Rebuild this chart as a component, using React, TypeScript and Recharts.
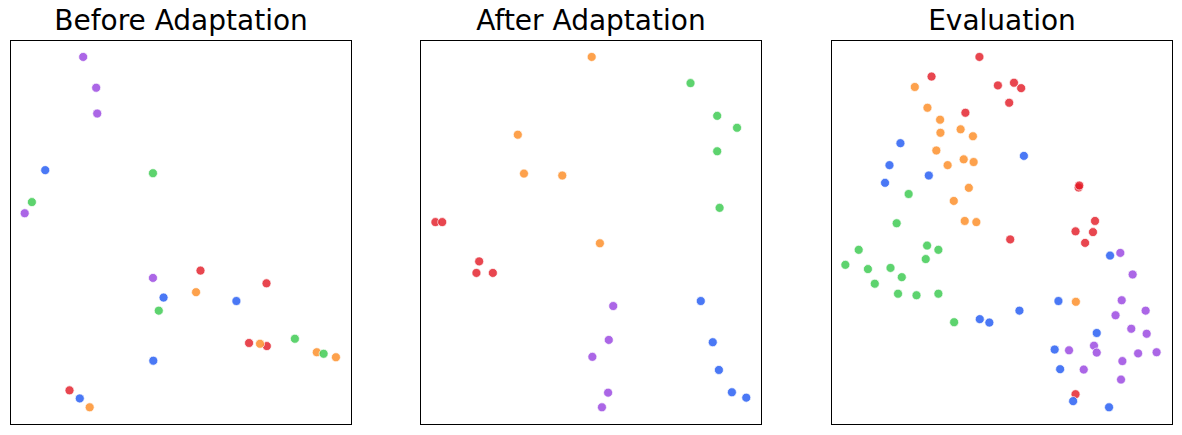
import { ScatterChart, Scatter, XAxis, YAxis } from 'recharts';

// embedding coordinates (0-100 box per panel)
const classes = ['red', 'orange', 'green', 'blue', 'purple'];
const colors: Record<string, string> = {
  red: '#e21823',
  orange: '#fd8a1f',
  green: '#34c84a',
  blue: '#1d56f3',
  purple: '#9640e0',
};

const titles = ['Before Adaptation', 'After Adaptation', 'Evaluation'];

const beforeRed = [[55.7, 40.1], [75.0, 36.8], [69.9, 21.3], [75.1, 20.5], [17.4, 9.0]];
const beforeOrange = [[54.4, 34.5], [73.1, 21.1], [89.7, 18.9], [95.3, 17.6], [23.3, 4.6]];
const beforeGreen = [[41.8, 65.4], [6.4, 57.9], [43.5, 29.7], [83.3, 22.4], [91.7, 18.5]];
const beforeBlue = [[10.3, 66.2], [44.9, 33.1], [66.2, 32.2], [41.9, 16.7], [20.4, 6.9]];
const beforePurple = [[21.4, 95.6], [25.2, 87.6], [25.5, 80.9], [4.3, 55.0], [41.8, 38.2]];

const afterRed = [[4.5, 52.7], [6.5, 52.7], [17.3, 42.5], [16.5, 39.5], [21.3, 39.5]];
const afterOrange = [[50.2, 95.6], [28.6, 75.4], [30.4, 65.3], [41.6, 64.8], [52.6, 47.2]];
const afterGreen = [[79.1, 88.8], [86.9, 80.3], [92.7, 77.2], [86.9, 71.1], [87.6, 56.4]];
const afterBlue = [[82.1, 32.2], [85.6, 21.5], [87.4, 14.3], [91.2, 8.5], [95.4, 7.1]];
const afterPurple = [[56.5, 30.9], [55.2, 22.1], [50.4, 17.7], [55.0, 8.4], [53.2, 4.6]];

const evalRed = [
  [43.4, 95.6], [29.4, 90.5], [48.8, 88.2], [53.5, 88.9], [55.6, 87.5], [52.1, 83.7],
  [39.3, 81.1], [72.4, 61.7], [72.6, 62.2], [77.2, 53.0], [71.5, 50.3], [76.6, 50.1],
  [74.3, 47.3], [52.4, 48.2], [71.5, 8.0],
];
const evalOrange = [
  [24.5, 87.8], [28.2, 82.4], [31.9, 79.3], [32.0, 75.9], [37.9, 76.8], [41.5, 75.0],
  [30.8, 71.3], [38.8, 69.0], [41.7, 68.3], [34.1, 67.5], [40.3, 61.6], [35.9, 58.2],
  [39.1, 53.0], [42.5, 52.7], [71.6, 32.0],
];
const evalGreen = [
  [22.7, 60.0], [19.2, 52.4], [8.1, 45.5], [28.1, 46.6], [31.4, 45.5], [27.7, 43.1],
  [4.2, 41.6], [10.8, 40.5], [17.4, 40.8], [20.7, 38.4], [12.8, 36.7], [19.6, 34.1],
  [25.0, 33.7], [31.4, 34.1], [36.0, 26.7],
];
const evalBlue = [
  [20.3, 73.2], [56.4, 69.9], [17.1, 67.5], [28.6, 64.8], [15.8, 62.9], [81.6, 44.0],
  [43.5, 27.5], [46.3, 26.6], [55.1, 29.7], [66.5, 32.2], [77.7, 23.9], [65.4, 19.6],
  [67.0, 14.5], [70.8, 6.2], [81.3, 4.6],
];
const evalPurple = [
  [84.6, 44.7], [88.2, 39.1], [85.0, 32.4], [92.0, 29.7], [83.2, 28.5], [87.8, 25.0],
  [92.3, 23.7], [69.6, 19.4], [76.9, 20.6], [77.7, 18.8], [89.8, 18.6], [95.2, 18.9],
  [85.2, 16.6], [73.9, 14.4], [84.8, 11.8],
];

const panels = [
  { red: beforeRed, orange: beforeOrange, green: beforeGreen, blue: beforeBlue, purple: beforePurple },
  { red: afterRed, orange: afterOrange, green: afterGreen, blue: afterBlue, purple: afterPurple },
  { red: evalRed, orange: evalOrange, green: evalGreen, blue: evalBlue, purple: evalPurple },
];

const panelLeft = [10, 420, 831];

const Dot = (props: any) => {
  const { cx, cy, fill } = props;
  if (cx == null || cy == null) return null;
  return (
    <circle cx={cx} cy={cy} r={4.5} fill={fill} fillOpacity={0.8} stroke="#ffffff" strokeWidth={0.7} />
  );
};

function Panel({ idx }: { idx: number }) {
  const p: any = panels[idx];
  return (
    <>
      <div
        style={{
          position: 'absolute',
          left: panelLeft[idx],
          top: 2,
          width: 342,
          textAlign: 'center',
          fontFamily: 'DejaVu Sans',
          fontSize: 28,
          color: '#000',
          lineHeight: '38px',
          whiteSpace: 'nowrap',
        }}
      >
        {titles[idx]}
      </div>
      <div style={{ position: 'absolute', left: panelLeft[idx], top: 40, width: 342, height: 385 }}>
        <ScatterChart width={342} height={385} margin={{ top: 0, right: 0, bottom: 0, left: 0 }}>
          <XAxis type="number" dataKey="x" domain={[0, 100]} hide />
          <YAxis type="number" dataKey="y" domain={[0, 100]} hide />
          {classes.map((c) => (
            <Scatter
              key={c}
              data={p[c].map(([x, y]: number[]) => ({ x, y }))}
              fill={colors[c]}
              shape={<Dot />}
              isAnimationActive={false}
            />
          ))}
        </ScatterChart>
        <div
          style={{
            position: 'absolute',
            left: 0,
            top: 0,
            width: 342,
            height: 385,
            boxSizing: 'border-box',
            border: '1px solid #000',
            pointerEvents: 'none',
          }}
        />
      </div>
    </>
  );
}

export default function App() {
  return (
    <div style={{ position: 'absolute', left: 0, top: 0, width: 1182, height: 435, background: '#fff' }}>
      <Panel idx={0} />
      <Panel idx={1} />
      <Panel idx={2} />
    </div>
  );
}
